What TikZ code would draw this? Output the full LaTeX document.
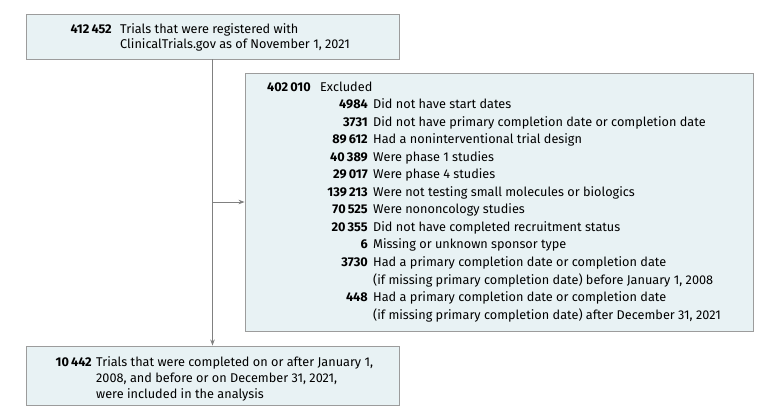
\documentclass[tikz,border=0pt]{standalone}
\usepackage{fontspec}
\setmainfont{Fira Sans}
\usetikzlibrary{arrows.meta}
\definecolor{boxfill}{HTML}{E8F2F4}
\definecolor{boxline}{HTML}{9C9C9C}
\definecolor{conn}{HTML}{808080}
\tikzset{
  box/.style={draw=boxline, fill=boxfill, line width=0.9pt, inner sep=0pt},
  num/.style={anchor=base east, inner sep=0pt, font=\fontsize{12.7}{14}\selectfont\bfseries},
  txt/.style={anchor=base west, inner sep=0pt, font=\fontsize{12.7}{14}\selectfont},
  conn/.style={draw=conn, line width=0.8pt, -{Stealth[length=6pt,width=4.5pt]}}
}
\begin{document}
\begin{tikzpicture}[x=1pt,y=-1pt]
\useasboundingbox (0,0) rectangle (780,418);
% boxes
\node[box, minimum width=373pt, minimum height=45pt] (top) at (212.5,36.5) {};
\node[box, minimum width=508pt, minimum height=258pt] (excl) at (499,202) {};
\node[box, minimum width=373pt, minimum height=59pt] (bot) at (212.5,375.5) {};
% top text
\node[num] (n0) at (112,33.5) {412\,452};
\node[txt] (t0a) at (120,33.5) {Trials that were registered with};
\node[txt] (t0b) at (120,48) {ClinicalTrials.gov as of November 1, 2021};
% exclusion text
\def\ya{91}\def\dy{17.55}
\node[num] (e0) at (311,\ya) {402\,010};
\node[txt] (f0) at (320,\ya) {Excluded};
\node[num] (e1) at (368,\ya+1*\dy) {4984};
\node[txt] (f1) at (373,\ya+1*\dy) {Did not have start dates};
\node[num] (e2) at (368,\ya+2*\dy) {3731};
\node[txt] (f2) at (373,\ya+2*\dy) {Did not have primary completion date or completion date};
\node[num] (e3) at (368,\ya+3*\dy) {89\,612};
\node[txt] (f3) at (373,\ya+3*\dy) {Had a noninterventional trial design};
\node[num] (e4) at (368,\ya+4*\dy) {40\,389};
\node[txt] (f4) at (373,\ya+4*\dy) {Were phase 1 studies};
\node[num] (e5) at (368,\ya+5*\dy) {29\,017};
\node[txt] (f5) at (373,\ya+5*\dy) {Were phase 4 studies};
\node[num] (e6) at (368,\ya+6*\dy) {139\,213};
\node[txt] (f6) at (373,\ya+6*\dy) {Were not testing small molecules or biologics};
\node[num] (e7) at (368,\ya+7*\dy) {70\,525};
\node[txt] (f7) at (373,\ya+7*\dy) {Were nononcology studies};
\node[num] (e8) at (368,\ya+8*\dy) {20\,355};
\node[txt] (f8) at (373,\ya+8*\dy) {Did not have completed recruitment status};
\node[num] (e9) at (368,\ya+9*\dy) {6};
\node[txt] (f9) at (373,\ya+9*\dy) {Missing or unknown sponsor type};
\node[num] (e10) at (368,\ya+10*\dy) {3730};
\node[txt] (f10) at (373,\ya+10*\dy) {Had a primary completion date or completion date};
\node[txt] (f11) at (373,\ya+11*\dy) {(if missing primary completion date) before January 1, 2008};
\node[num] (e12) at (368,\ya+12*\dy) {448};
\node[txt] (f12) at (373,\ya+12*\dy) {Had a primary completion date or completion date};
\node[txt] (f13) at (373,\ya+13*\dy) {(if missing primary completion date) after December 31, 2021};
% bottom text
\node[num] (n1) at (92,366) {10\,442};
\node[txt] (t1a) at (96,366) {Trials that were completed on or after January 1,};
\node[txt] (t1b) at (96,382) {2008, and before or on December 31, 2021,};
\node[txt] (t1c) at (96,398) {were included in the analysis};
% connectors
\coordinate (split) at (top.south |- excl.west);
\draw[conn] (top.south) -- (bot.north);
\draw[conn] (split) -- (excl.west);
\end{tikzpicture}
\end{document}
